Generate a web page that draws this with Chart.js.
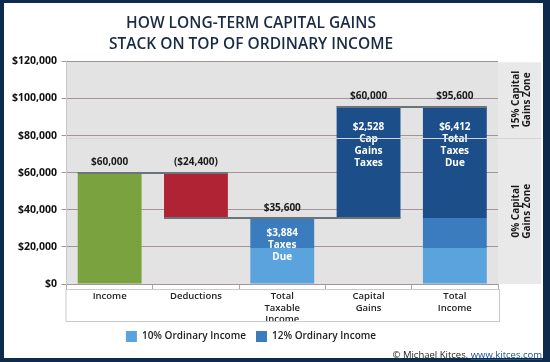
<!DOCTYPE html>
<html>
<head>
<meta charset="utf-8">
<script src="https://cdn.jsdelivr.net/npm/chart.js@4.4.1/dist/chart.umd.min.js"></script>
<style>
  html, body { margin: 0; padding: 0; }
  body { width: 550px; height: 362px; background: #0d2c4d; position: relative; overflow: hidden; }
  #frame { position: absolute; left: 4px; top: 3px; width: 539px; height: 355px; background: #fff; }
  #credit { position: absolute; right: 8px; top: 348px; font: 9.5px "Open Sans"; color: #222; }
  #credit span { color: #1b4f8a; text-decoration: underline; }
</style>
</head>
<body>
<div id="frame"><canvas id="chart" width="539" height="355"></canvas></div>
<div id="credit">© Michael Kitces, <span>www.kitces.com</span></div>
<script>
const categories = [['Income'], ['Deductions'], ['Total', 'Taxable', 'Income'], ['Capital', 'Gains'], ['Total', 'Income']];
const incomeBar = [[0, 60000], null, null, null, null];
const deductionBar = [null, [35600, 60000], null, null, null];
const ordinary10 = [null, null, [0, 19400], null, [0, 19400]];
const ordinary12 = [null, null, [19400, 35600], null, [19400, 35600]];
const capGainsBar = [null, null, null, [35600, 95600], [35600, 95600]];
const topLabels = ['$60,000', '($24,400)', '$35,600', '$60,000', '$95,600'];
const innerLabels = [[], [], ['$3,884', 'Taxes', 'Due'], ['$2,528', 'Cap', 'Gains', 'Taxes'], ['$6,412', 'Total', 'Taxes', 'Due']];
const connectors = [
    { from: 0, to: 1, value: 60000 },
    { from: 1, to: 3, value: 35600 },
    { from: 3, to: 4, value: 95600 }
];
const yMax = 120000;
const yStep = 20000;
const zoneBoundary = 78750;
const zoneLabels = [['15% Capital', 'Gains Zone'], ['0% Capital', 'Gains Zone']];

const FONT = '"Open Sans", sans-serif';
const barPct = 0.74;
const innerOffset = [0, 0, 15, 21, 21];

const decor = {
    id: 'decor',
    beforeDraw(chart) {
        const { ctx, chartArea: a } = chart;
        ctx.save();
        ctx.fillStyle = '#e3e3e3';
        ctx.fillRect(a.left, a.top, a.right - a.left, a.bottom - a.top);
        ctx.fillStyle = '#e9e9e9';
        ctx.fillRect(a.right, a.top + 1, 43, a.bottom - a.top - 1);
        ctx.restore();
    },
    afterDatasetsDraw(chart) {
        const { ctx, scales: { x, y } } = chart;
        const half = (x.getPixelForValue(1) - x.getPixelForValue(0)) * barPct / 2;
        ctx.save();
        ctx.strokeStyle = '#6b747b';
        ctx.lineWidth = 2;
        connectors.forEach(c => {
            const py = Math.round(y.getPixelForValue(c.value));
            ctx.beginPath();
            ctx.moveTo(x.getPixelForValue(c.from) - half, py);
            ctx.lineTo(x.getPixelForValue(c.to) + half, py);
            ctx.stroke();
        });

        // label above each bar
        const tops = categories.map((_, i) => {
            let m = 0;
            chart.data.datasets.forEach(ds => { if (ds.data[i]) m = Math.max(m, ds.data[i][1]); });
            return m;
        });
        ctx.fillStyle = '#1a1a1a';
        ctx.font = 'bold 10px ' + FONT;
        ctx.textAlign = 'center';
        ctx.textBaseline = 'middle';
        topLabels.forEach((t, i) => {
            ctx.fillText(t, x.getPixelForValue(i), y.getPixelForValue(tops[i]) - 10);
        });

        // labels inside bars
        ctx.fillStyle = '#ffffff';
        innerLabels.forEach((lines, i) => {
            lines.forEach((t, k) => {
                ctx.fillText(t, x.getPixelForValue(i), y.getPixelForValue(tops[i]) + innerOffset[i] + k * 12);
            });
        });
        ctx.restore();
    },
    afterDraw(chart) {
        const { ctx, chartArea: a, scales: { y } } = chart;
        ctx.save();
        const zy = Math.round(y.getPixelForValue(zoneBoundary)) + 0.5;
        ctx.strokeStyle = '#d4d4d4';
        ctx.lineWidth = 1;
        ctx.beginPath();
        ctx.moveTo(a.left, zy);
        ctx.lineTo(a.right + 43, zy);
        ctx.stroke();

        // box under the category axis
        ctx.strokeStyle = '#c9c9c9';
        ctx.strokeRect(a.left - 0.5, a.bottom + 5.5, a.right - a.left + 2, 32);

        // zone labels in the side panel
        ctx.fillStyle = '#1a1a1a';
        ctx.font = 'bold 10px ' + FONT;
        ctx.textAlign = 'center';
        ctx.textBaseline = 'middle';
        const cx = a.right + 24;
        const zones = [[a.top, zy], [zy, a.bottom]];
        zoneLabels.forEach((lines, i) => {
            const cy = (zones[i][0] + zones[i][1]) / 2;
            ctx.save();
            ctx.translate(cx, cy);
            ctx.rotate(-Math.PI / 2);
            lines.forEach((t, k) => ctx.fillText(t, 0, (k - 0.5) * 11));
            ctx.restore();
        });
        ctx.restore();
    }
};

new Chart(document.getElementById('chart'), {
    type: 'bar',
    data: {
        labels: categories,
        datasets: [
            { label: '10% Ordinary Income', data: ordinary10, backgroundColor: '#5ba3dc' },
            { label: '12% Ordinary Income', data: ordinary12, backgroundColor: '#3a7cbd' },
            { label: 'Income', data: incomeBar, backgroundColor: '#7aa33f' },
            { label: 'Deductions', data: deductionBar, backgroundColor: '#b02335' },
            { label: 'Capital Gains', data: capGainsBar, backgroundColor: '#1c4f89' }
        ]
    },
    options: {
        responsive: false,
        animation: false,
        datasets: { bar: { grouped: false, categoryPercentage: 1, barPercentage: barPct } },
        layout: { padding: { left: 0, right: 45, top: 0, bottom: 6 } },
        plugins: {
            title: {
                display: true,
                text: ['HOW LONG-TERM CAPITAL GAINS', 'STACK ON TOP OF ORDINARY INCOME'],
                color: '#1b2b45',
                font: { family: FONT, size: 15.5, weight: '600', lineHeight: 1.3 },
                padding: { top: 11, bottom: 7 }
            },
            legend: {
                position: 'bottom',
                labels: {
                    filter: item => item.text.indexOf('Ordinary') !== -1,
                    boxWidth: 11, boxHeight: 11, padding: 10,
                    color: '#222',
                    font: { family: FONT, size: 10, weight: '600' }
                }
            },
            tooltip: { enabled: false }
        },
        scales: {
            x: {
                ticks: { color: '#222', font: { family: FONT, size: 9.5, weight: '600' }, padding: 2, maxRotation: 0, autoSkip: false },
                grid: { display: true, drawOnChartArea: false, tickLength: 5, color: '#aaaaaa', offset: true },
                border: { display: false },
                afterFit(s) { s.height = 37; }
            },
            y: {
                min: 0, max: yMax,
                ticks: { stepSize: yStep, color: '#111', padding: 4.5, font: { family: FONT, size: 10.5, weight: 'bold' },
                    callback: v => '$' + v.toLocaleString('en-US') },
                grid: { color: '#a4949a', tickLength: 5 },
                border: { display: true, color: '#c8c8c8' },
                afterFit(s) { s.width = 62.5; }
            }
        }
    },
    plugins: [decor]
});
</script>
</body>
</html>
